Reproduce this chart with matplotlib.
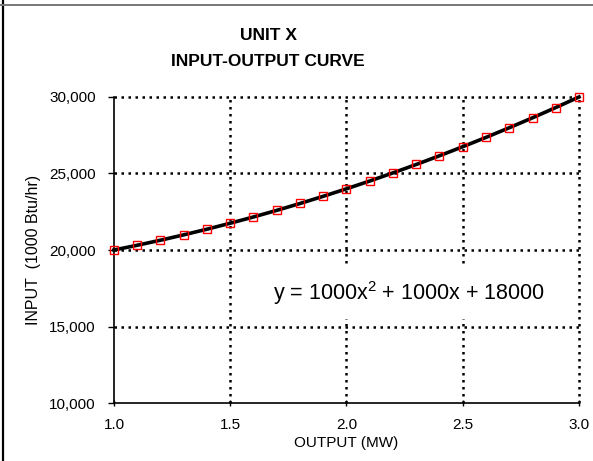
import matplotlib
matplotlib.use("Agg")
import matplotlib.pyplot as plt
from matplotlib.lines import Line2D

# ── Data ──────────────────────────────────────────────────────────────────────
output_mw = [1.0, 1.1, 1.2, 1.3, 1.4, 1.5, 1.6, 1.7, 1.8, 1.9, 2.0,
             2.1, 2.2, 2.3, 2.4, 2.5, 2.6, 2.7, 2.8, 2.9, 3.0]
input_btu = [20000, 20310, 20640, 20990, 21360, 21750, 22160, 22590, 23040, 23510, 24000,
             24510, 25040, 25590, 26160, 26750, 27360, 27990, 28640, 29310, 30000]
x_ticks = [1.0, 1.5, 2.0, 2.5, 3.0]
y_ticks = [10000, 15000, 20000, 25000, 30000]
y_tick_labels = ["10,000", "15,000", "20,000", "25,000", "30,000"]

plt.rcParams["font.family"] = ["Liberation Sans", "DejaVu Sans"]
plt.rcParams["mathtext.fontset"] = "custom"
plt.rcParams["mathtext.rm"] = "Liberation Sans"
plt.rcParams["mathtext.it"] = "Liberation Sans"

fig = plt.figure(figsize=(5.93, 4.61), dpi=100)
ax = fig.add_axes([0.1922, 0.1258, 0.7842, 0.6638])

# frame lines of the original worksheet picture
fig.add_artist(Line2D([0.0045, 0.0045], [0, 1], transform=fig.transFigure, color="black", lw=1.6))
fig.add_artist(Line2D([0, 1], [0.990, 0.990], transform=fig.transFigure, color="#777777", lw=1.4))

# ── Grid ──────────────────────────────────────────────────────────────────────
for yv in y_ticks[1:]:
    ax.axhline(yv, color="black", lw=1.8, linestyle=(0, (1, 1.8)), zorder=1, clip_on=False)
for xv in x_ticks[1:]:
    ax.axvline(xv, color="black", lw=1.8, linestyle=(0, (1, 1.8)), zorder=1, clip_on=False)

# ── Curve ─────────────────────────────────────────────────────────────────────
ax.plot(output_mw, input_btu, color="black", lw=2.6, zorder=3, clip_on=False)
ax.plot(output_mw, input_btu, linestyle="none", marker="s", markersize=6,
        markerfacecolor="none", markeredgecolor="red", markeredgewidth=1.0, zorder=4,
        clip_on=False)

ax.set_xlim(1.0, 3.0)
ax.set_ylim(10000, 30000)
ax.set_xticks(x_ticks)
ax.set_xticklabels([f"{v:.1f}" for v in x_ticks])
ax.set_yticks(y_ticks)
ax.set_yticklabels(y_tick_labels)
ax.tick_params(axis="y", direction="out", length=4, width=1, labelsize=11, pad=9)
ax.tick_params(axis="x", direction="inout", length=5, width=1, labelsize=11, pad=8)

for side in ["top", "right"]:
    ax.spines[side].set_visible(False)
for side in ["left", "bottom"]:
    ax.spines[side].set_linewidth(1.2)

ax.set_xlabel("OUTPUT (MW)", fontsize=11, labelpad=3)
fig.text(0.056, 0.458, "INPUT  (1000 Btu/hr)", rotation=90, fontsize=11.5,
         ha="center", va="center")

fig.text(0.452, 0.922, "UNIT X", fontsize=12.5, fontweight="bold", ha="center", va="center")
fig.text(0.452, 0.866, "INPUT-OUTPUT CURVE", fontsize=12.5, fontweight="bold",
         ha="center", va="center")

# equation label sits on a white box that hides the grid behind it
ax.text(0.342, 0.359, r"y = 1000x$^{2}$ + 1000x + 18000", transform=ax.transAxes,
        fontsize=15.5, ha="left", va="center", zorder=5,
        bbox=dict(boxstyle="square,pad=0.55", facecolor="white", edgecolor="none"))

plt.savefig("out.png", dpi=100)
